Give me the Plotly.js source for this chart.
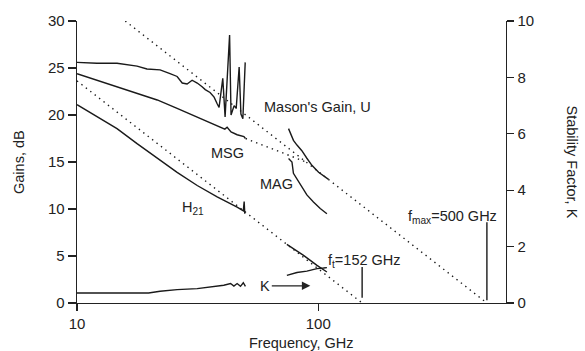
<!DOCTYPE html>
<html>
<head>
<meta charset="utf-8">
<script src="https://cdn.plot.ly/plotly-3.0.1.min.js"></script>
<style>html,body{margin:0;padding:0;background:#fff;}#chart{width:585px;height:351px;}</style>
</head>
<body>
<div id="chart"></div>
<script>
// ---- data (frequency in GHz, gains in dB, K unitless) ----
const uFreqLow = [10, 12.1, 14.65, 17.74, 19.5, 22.1, 24.3, 26.0, 27.3, 28.6, 30.0, 31.5, 33.0, 34.0, 35.6, 37.0, 38.1, 38.8, 40.2, 41.1, 42.9, 43.5, 44.8, 45.7, 47.0, 47.8, 48.7, 49.8];
const uGainLow = [25.6, 25.5, 25.5, 25.2, 24.9, 24.8, 24.4, 24.1, 23.4, 23.3, 23.7, 23.4, 23.0, 22.7, 22.4, 21.9, 21.2, 20.8, 23.9, 19.8, 28.5, 20.0, 21.0, 20.7, 25.1, 20.1, 19.6, 25.6];
const msgFreq = [10, 12.1, 14.65, 17.74, 21.5, 26.0, 31.5, 38.1, 41.0, 41.9, 43.5, 46.1, 49.2, 49.9];
const msgGain = [24.4, 23.7, 23.0, 22.3, 21.6, 20.7, 19.8, 18.9, 18.5, 18.7, 18.2, 17.9, 17.7, 17.5];
const h21FreqLow = [10, 12.1, 14.65, 17.74, 21.5, 26.0, 31.5, 38.1, 46.1, 48.4, 48.9, 49.3, 49.6];
const h21GainLow = [21.1, 19.8, 18.55, 16.95, 15.4, 13.9, 12.5, 11.3, 10.2, 9.86, 9.8, 10.8, 9.5];
const kFreqLow = [10, 19.8, 22.1, 26.0, 31.5, 35.6, 40.6, 43.3, 44.7, 46.1, 47.6, 48.9, 49.9];
const kLow = [0.355, 0.355, 0.415, 0.475, 0.51, 0.57, 0.63, 0.69, 0.6, 0.69, 0.59, 0.72, 0.59];
const uFreqHigh = [75.3, 77.8, 78.9, 81.6, 85.5, 89.7, 94.1, 100.3, 106.9, 110.3];
const uGainHigh = [18.55, 17.8, 17.3, 16.8, 16.2, 15.4, 14.65, 13.9, 13.4, 13.15];
const magFreq = [75.3, 77.8, 78.9, 81.6, 84.2, 89.7, 95.5, 101.9, 108.6];
const magGain = [15.36, 15.0, 13.8, 13.2, 12.5, 11.5, 10.75, 10.05, 9.5];
const h21FreqHigh = [74.1, 80.0, 86.9, 98.8, 108.6];
const h21GainHigh = [6.24, 5.7, 5.07, 4.0, 3.3];
const kFreqHigh = [74.1, 81.6, 89.7, 98.8, 105.1, 108.6];
const kHigh = [0.98, 1.08, 1.13, 1.22, 1.24, 1.255];
// extrapolation lines
const h21ExtFreq = [10, 152];
const h21ExtGain = [23.63, 0];
const uExtFreq = [15.85, 500];
const uExtGain = [30, 0];
const msgExtFreq = [50, 89];
const msgExtGain = [17.5, 15.0];
// marker lines at f_t and f_max
const ftFreq = [152, 152];
const ftGain = [0.57, 3.83];
const fmaxFreq = [500, 500];
const fmaxGain = [0.3, 8.6];
// axis ticks
const xMajor = [10, 100];
const xMajorText = ['10', '100'];
const xMinor = [20, 30, 40, 50, 60, 70, 80, 90, 200, 300, 400, 500];
const yTicks = [0, 5, 10, 15, 20, 25, 30];
const yMinor = [1, 2, 3, 4, 6, 7, 8, 9, 11, 12, 13, 14, 16, 17, 18, 19, 21, 22, 23, 24, 26, 27, 28, 29];
const y2Ticks = [0, 2, 4, 6, 8, 10];
const y2Minor = [0.5, 1, 1.5, 2.5, 3, 3.5, 4.5, 5, 5.5, 6.5, 7, 7.5, 8.5, 9, 9.5];

const ink = '#1a1a1a';
const axc = '#222';
const solid = {color: ink, width: 1.4};
const dotted = {color: ink, width: 1.4, dash: '1.4px,4.2px'};

function tr(x, y, line, yaxis) {
  return {x: x, y: y, type: 'scatter', mode: 'lines', line: line, yaxis: yaxis || 'y',
          hoverinfo: 'skip', showlegend: false};
}

const data = [
  tr(uExtFreq, uExtGain, dotted),
  tr(h21ExtFreq, h21ExtGain, dotted),
  tr(msgExtFreq, msgExtGain, dotted),
  tr(uFreqLow, uGainLow, solid),
  tr(msgFreq, msgGain, solid),
  tr(h21FreqLow, h21GainLow, solid),
  tr(uFreqHigh, uGainHigh, solid),
  tr(magFreq, magGain, solid),
  tr(h21FreqHigh, h21GainHigh, solid),
  tr(ftFreq, ftGain, solid),
  tr(fmaxFreq, fmaxGain, solid),
  tr(kFreqLow, kLow, solid, 'y2'),
  tr(kFreqHigh, kHigh, solid, 'y2')
];

const font = {family: '"Liberation Sans", Arial, Helvetica, sans-serif', color: '#222'};
const F = s => Object.assign({size: s}, font);
const L = Math.log10;
const xRange = [1, L(600)];

// helper for tick-only overlay axes
function tickAxis(extra, vals, len) {
  return Object.assign({
    tickmode: 'array', tickvals: vals, showticklabels: false,
    ticks: 'outside', ticklen: len, tickwidth: 1.1, tickcolor: axc,
    showline: false, showgrid: false, zeroline: false, fixedrange: true
  }, extra);
}

const layout = {
  width: 585, height: 351,
  margin: {l: 77, r: 79, t: 21, b: 48},
  paper_bgcolor: '#fff', plot_bgcolor: '#fff',
  font: F(14),
  showlegend: false,
  xaxis: {
    type: 'log', range: xRange,
    tickmode: 'array', tickvals: xMajor, ticktext: xMajorText,
    ticks: 'outside', ticklen: 7, tickwidth: 1.2, tickcolor: axc,
    showline: true, linecolor: axc, linewidth: 1.4,
    showgrid: false, zeroline: false,
    tickfont: F(15)
  },
  xaxis2: tickAxis({type: 'log', range: xRange, overlaying: 'x', side: 'top', anchor: 'y',
                    showline: true, linecolor: axc, linewidth: 1.4, tickwidth: 1.2}, xMajor, 7),
  xaxis3: tickAxis({type: 'log', range: xRange, overlaying: 'x', side: 'bottom', anchor: 'y'}, xMinor, 4),
  xaxis4: tickAxis({type: 'log', range: xRange, overlaying: 'x', side: 'top', anchor: 'y'}, xMinor, 4),
  yaxis: {
    range: [0, 30], tickmode: 'array', tickvals: yTicks,
    ticks: 'outside', ticklen: 8, tickwidth: 1.2, tickcolor: axc,
    showline: true, linecolor: axc, linewidth: 1.4,
    showgrid: false, zeroline: false,
    tickfont: F(15)
  },
  yaxis2: {
    overlaying: 'y', side: 'right', range: [0, 10], tickmode: 'array', tickvals: y2Ticks,
    ticks: 'outside', ticklen: 7, tickwidth: 1.2, tickcolor: axc,
    showline: true, linecolor: axc, linewidth: 1.4,
    showgrid: false, zeroline: false,
    tickfont: F(15)
  },
  yaxis3: tickAxis({range: [0, 30], overlaying: 'y', side: 'left', anchor: 'x'}, yMinor, 4),
  yaxis4: tickAxis({range: [0, 10], overlaying: 'y', side: 'right', anchor: 'x'}, y2Minor, 4),
  annotations: [
    {xref: 'paper', yref: 'paper', x: (19 - 77) / 429, y: 0.5, xanchor: 'center', yanchor: 'middle',
     text: 'Gains, dB', textangle: -90, showarrow: false, font: F(14.5)},
    {xref: 'paper', yref: 'paper', x: (571.5 - 77) / 429, y: 0.5, xanchor: 'center', yanchor: 'middle',
     text: 'Stability Factor, K', textangle: 90, showarrow: false, font: F(14.5)},
    {xref: 'paper', yref: 'paper', x: (301.7 - 77) / 429, y: -(343 - 302.7) / 282, xanchor: 'center', yanchor: 'middle',
     text: 'Frequency, GHz', showarrow: false, font: F(14.5)},
    {xref: 'x', yref: 'y', x: 1.996, y: 20.8, text: "Mason's Gain, U", showarrow: false, font: F(14.5)},
    {xref: 'x', yref: 'y', x: 1.622, y: 16.0, text: 'MSG', showarrow: false, font: F(14.5)},
    {xref: 'x', yref: 'y', x: 1.828, y: 12.7, text: 'MAG', showarrow: false, font: F(14.5)},
    {xref: 'x', yref: 'y', x: 1.428, y: 10.1, xanchor: 'left', text: 'H<sub>21</sub>', showarrow: false, font: F(14.5)},
    {xref: 'x', yref: 'y', x: 2.031, y: 4.45, xanchor: 'left', text: 'f<sub>t</sub>=152 GHz', showarrow: false, font: F(14.5)},
    {xref: 'x', yref: 'y', x: 2.363, y: 9.15, xanchor: 'left', text: 'f<sub>max</sub>=500 GHz', showarrow: false, font: F(14.5)},
    {xref: 'x', yref: 'y', x: 1.967, y: 1.83, ax: -45, ay: 0, text: 'K', showarrow: true,
     arrowhead: 2, arrowsize: 1.3, arrowwidth: 1.3, arrowcolor: axc, font: F(14.5)}
  ]
};

Plotly.newPlot('chart', data, layout, {staticPlot: true, displayModeBar: false});
</script>
</body>
</html>
